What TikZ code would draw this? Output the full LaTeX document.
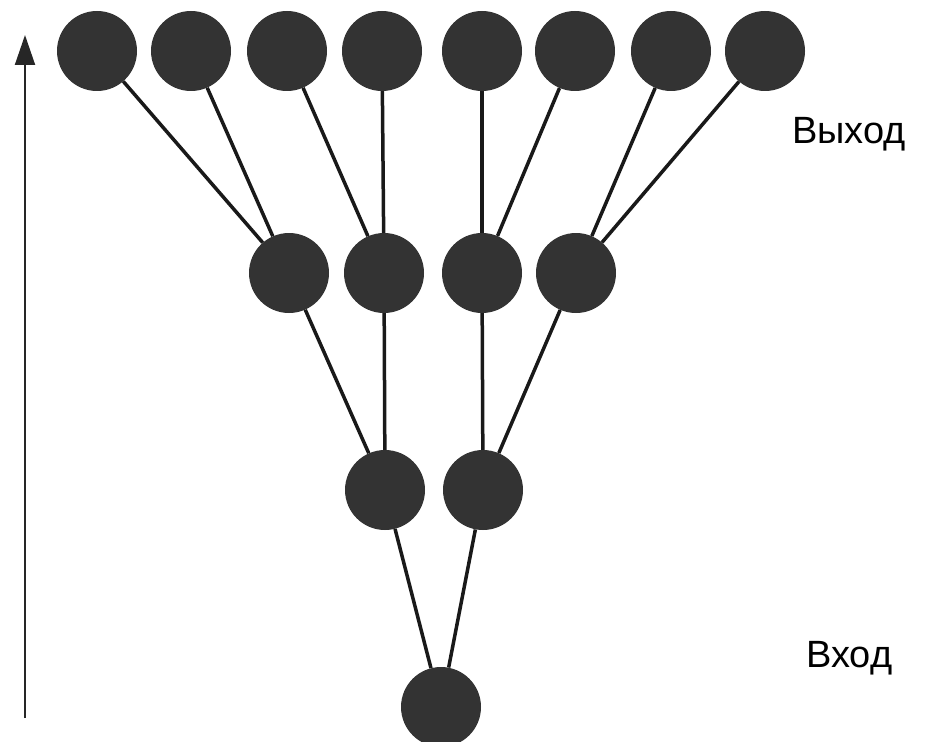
\documentclass[tikz,border=0pt]{standalone}
\usepackage{fontspec}
\setmainfont{Liberation Sans}
\usetikzlibrary{arrows.meta}
\begin{document}
\begin{tikzpicture}[x=1pt,y=-1pt,
  neuron/.style={circle,fill=black!80,minimum size=80pt,inner sep=0pt},
  link/.style={line width=3.5pt,black!90},
  axis/.style={line width=2pt,black!85,-{Triangle[length=30pt,width=20pt]}},
  lbl/.style={font=\fontsize{38}{44}\selectfont,anchor=base west,inner sep=0pt}]
\useasboundingbox (0,0) rectangle (925,741);
% top row (output)
\node[neuron] (t1) at (97,51) {};
\node[neuron] (t2) at (191,51) {};
\node[neuron] (t3) at (287,51) {};
\node[neuron] (t4) at (382,51) {};
\node[neuron] (t5) at (482,51) {};
\node[neuron] (t6) at (575,51) {};
\node[neuron] (t7) at (671,51) {};
\node[neuron] (t8) at (765,51) {};
% second row
\node[neuron] (s1) at (289,273) {};
\node[neuron] (s2) at (384,273) {};
\node[neuron] (s3) at (482,273) {};
\node[neuron] (s4) at (576,273) {};
% third row
\node[neuron] (r1) at (385,490) {};
\node[neuron] (r2) at (483,490) {};
% input
\node[neuron] (b) at (441,707) {};
% links
\draw[link] (t1) -- (s1);
\draw[link] (t2) -- (s1);
\draw[link] (t3) -- (s2);
\draw[link] (t4) -- (s2);
\draw[link] (t5) -- (s3);
\draw[link] (t6) -- (s3);
\draw[link] (t7) -- (s4);
\draw[link] (t8) -- (s4);
\draw[link] (s1) -- (r1);
\draw[link] (s2) -- (r1);
\draw[link] (s3) -- (r2);
\draw[link] (s4) -- (r2);
\draw[link] (r1) -- (b);
\draw[link] (r2) -- (b);
% axis arrow
\coordinate (a0) at (25,718);
\coordinate (a1) at (25,35);
\draw[axis] (a0) -- (a1);
% labels
\node[lbl] (out) at (792,143) {Выход};
\node[lbl] (in) at (806,667) {Вход};
\end{tikzpicture}
\end{document}
